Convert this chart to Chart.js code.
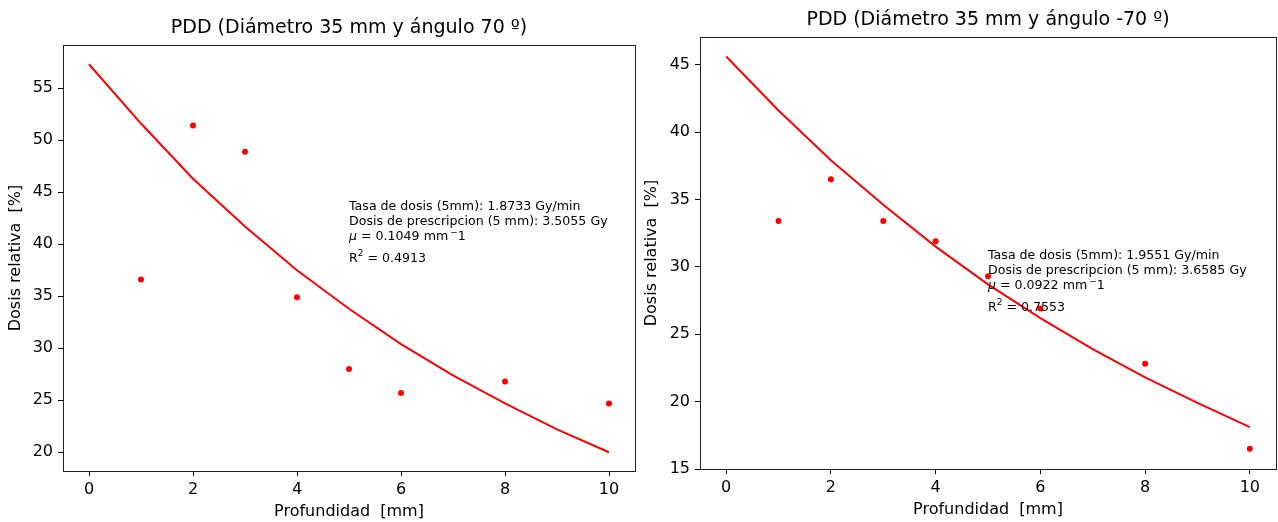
<!DOCTYPE html>
<html>
<head>
<meta charset="utf-8">
<script src="https://cdn.jsdelivr.net/npm/chart.js@4.4.1/dist/chart.umd.min.js"></script>
<style>
  body { margin: 0; background: #fff; }
  #wrap { position: relative; width: 1278px; height: 522px; overflow: hidden; }
  canvas { position: absolute; top: 0; }
  #pddLeft { left: 0; }
  #pddRight { left: 640px; }
</style>
</head>
<body>
<div id="wrap">
  <canvas id="pddLeft" width="640" height="522"></canvas>
  <canvas id="pddRight" width="640" height="522"></canvas>
</div>
<script>
// Profundidad de las medidas y del ajuste (mm)
const depthMeas = [1, 2, 3, 4, 5, 6, 8, 10];
const depthFit = [0, 1, 2, 3, 4, 5, 6, 7, 8, 9, 10];

// Ángulo 70 º
const measLeft = [36.6, 51.4, 48.9, 34.9, 28.0, 25.7, 26.8, 24.7];
const fitLeft = [57.3, 51.6, 46.3, 41.7, 37.5, 33.8, 30.4, 27.4, 24.7, 22.2, 20.0];

// Ángulo -70 º
const measRight = [33.4, 36.5, 33.4, 31.9, 29.3, 26.9, 22.8, 16.5];
const fitRight = [45.6, 41.6, 37.9, 34.6, 31.5, 28.7, 26.2, 23.9, 21.8, 19.9, 18.1];

// Ticks
const xTicks = [0, 2, 4, 6, 8, 10];
const yTicksLeft = [20, 25, 30, 35, 40, 45, 50, 55];
const yTicksRight = [15, 20, 25, 30, 35, 40, 45];

const FONT = '"DejaVu Sans", Verdana, sans-serif';

function toPoints(xs, ys) {
    return xs.map((x, i) => ({ x: x, y: ys[i] }));
}

// texto con superíndices (mathtext de matplotlib)
function drawRuns(ctx, x, y, runs) {
    runs.forEach(r => {
        ctx.font = r.font || ('12.6px ' + FONT);
        ctx.fillText(r.text, x, y + (r.dy || 0));
        x += ctx.measureText(r.text).width + (r.gap || 0);
    });
}

function noteLines(n) {
    const small = '9px ' + FONT;
    return [
        [{ text: 'Tasa de dosis (5mm): ' + n.tasa + ' Gy/min' }],
        [{ text: 'Dosis de prescripcion (5 mm): ' + n.dosis + ' Gy' }],
        [{ text: 'μ', font: 'italic 12.6px ' + FONT }, { text: ' = ' + n.mu + ' mm', gap: 2 },
         { text: '−', font: small, dy: -4 }, { text: '1' }],
        [{ text: 'R' }, { text: '2', font: small, dy: -5 }, { text: ' = ' + n.r2 }]
    ];
}

const framePlugin = {
    id: 'frameAndNote',
    afterDraw(chart, args, opts) {
        const { ctx, chartArea: a, scales } = chart;
        ctx.save();
        ctx.strokeStyle = '#222';
        ctx.lineWidth = 1;
        ctx.strokeRect(Math.round(a.left) + 0.5, Math.round(a.top) + 0.5,
            Math.round(a.right - a.left), Math.round(a.bottom - a.top));

        const n = opts.note;
        if (n) {
            ctx.fillStyle = '#000';
            ctx.textBaseline = 'middle';
            ctx.textAlign = 'left';
            const x = scales.x.getPixelForValue(n.x);
            const y0 = scales.y.getPixelForValue(n.y);
            const offs = [0, 15, 30, 52];
            noteLines(n).forEach((runs, i) => drawRuns(ctx, x, y0 + offs[i], runs));
        }
        ctx.restore();
    }
};

function makeChart(id, cfg) {
    return new Chart(document.getElementById(id), {
        type: 'line',
        data: {
            datasets: [
                {
                    data: toPoints(depthFit, cfg.fit),
                    borderColor: '#ff0000',
                    borderWidth: 2,
                    pointRadius: 0,
                    tension: 0,
                    fill: false
                },
                {
                    data: toPoints(depthMeas, cfg.meas),
                    showLine: false,
                    pointRadius: 3,
                    pointBackgroundColor: '#ff0000',
                    pointBorderWidth: 0
                }
            ]
        },
        options: {
            responsive: false,
            animation: false,
            devicePixelRatio: 1,
            layout: { padding: { left: 0, right: cfg.padRight, top: 0, bottom: 0 } },
            plugins: {
                legend: { display: false },
                tooltip: { enabled: false },
                title: {
                    display: true,
                    text: cfg.title,
                    fullSize: false,
                    color: '#000',
                    font: { family: FONT, size: 19, weight: 'normal' },
                    padding: { top: cfg.titleTop, bottom: 6 }
                },
                frameAndNote: { note: cfg.note }
            },
            scales: {
                x: {
                    type: 'linear',
                    min: -0.5,
                    max: 10.5,
                    afterBuildTicks: s => { s.ticks = xTicks.map(v => ({ value: v })); },
                    afterFit: s => { s.height = cfg.xHeight; },
                    grid: { drawOnChartArea: false, drawTicks: true, tickLength: 5, color: '#000' },
                    border: { display: false },
                    ticks: { color: '#000', padding: 4, font: { family: FONT, size: 16 } },
                    title: {
                        display: true,
                        text: 'Profundidad  [mm]',
                        color: '#000',
                        font: { family: FONT, size: 16 },
                        padding: { top: 0, bottom: cfg.xTitleBottom }
                    }
                },
                y: {
                    type: 'linear',
                    min: cfg.yMin,
                    max: cfg.yMax,
                    afterBuildTicks: s => { s.ticks = cfg.yTicks.map(v => ({ value: v })); },
                    afterFit: s => { s.width = cfg.yWidth; },
                    grid: { drawOnChartArea: false, drawTicks: true, tickLength: 5, color: '#000' },
                    border: { display: false },
                    ticks: { color: '#000', padding: 5, font: { family: FONT, size: 16 } },
                    title: {
                        display: true,
                        text: 'Dosis relativa  [%]',
                        color: '#000',
                        font: { family: FONT, size: 16 },
                        padding: { top: cfg.yTitlePad, bottom: 0 }
                    }
                }
            }
        },
        plugins: [framePlugin]
    });
}

makeChart('pddLeft', {
    title: 'PDD (Diámetro 35 mm y ángulo 70 º)',
    fit: fitLeft,
    meas: measLeft,
    yTicks: yTicksLeft,
    yMin: 18.2,
    yMax: 59.15,
    yWidth: 63,
    padRight: 5,
    titleTop: 16.2,
    xHeight: 51,
    xTitleBottom: 0.5,
    yTitlePad: 6.4,
    note: { x: 5, y: 43.6, tasa: '1.8733', dosis: '3.5055', mu: '0.1049', r2: '0.4913' }
});

makeChart('pddRight', {
    title: 'PDD (Diámetro 35 mm y ángulo -70 º)',
    fit: fitRight,
    meas: measRight,
    yTicks: yTicksRight,
    yMin: 15.0,
    yMax: 47.05,
    yWidth: 60,
    padRight: 3,
    titleTop: 8.2,
    xHeight: 53,
    xTitleBottom: 2.5,
    yTitlePad: 2.4,
    note: { x: 5, y: 30.8, tasa: '1.9551', dosis: '3.6585', mu: '0.0922', r2: '0.7553' }
});
</script>
</body>
</html>
